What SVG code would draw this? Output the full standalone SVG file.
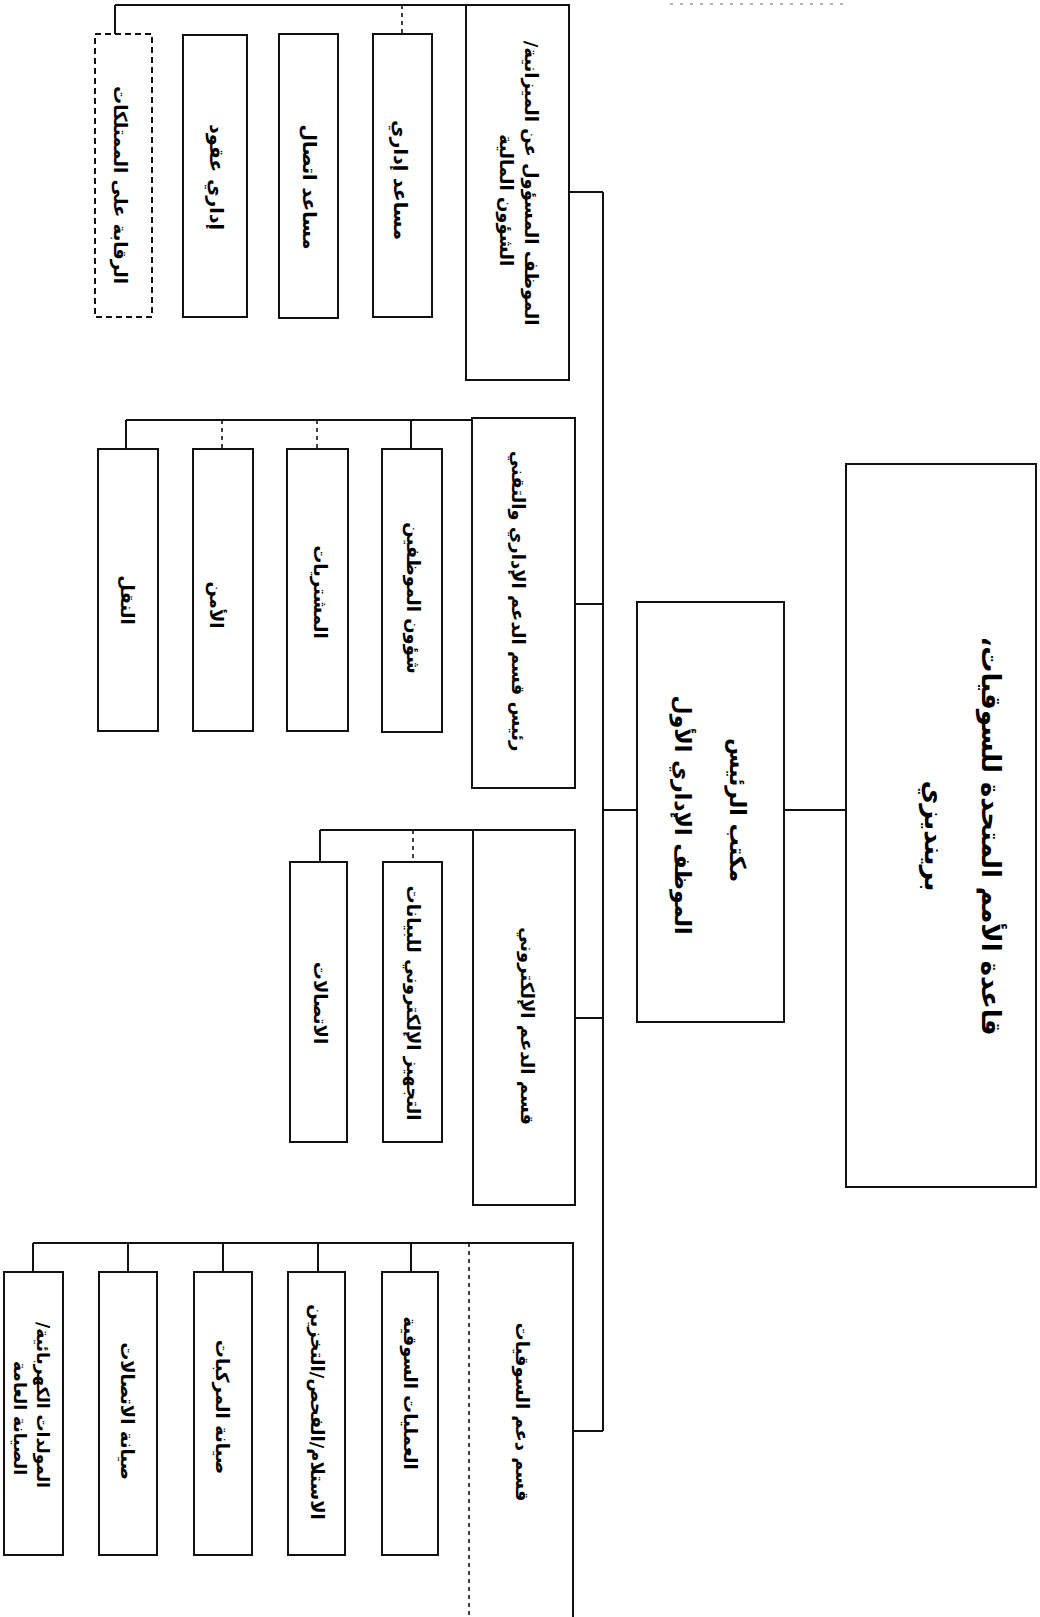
<svg xmlns="http://www.w3.org/2000/svg" width="1040" height="1617" viewBox="0 0 1040 1617">
<style>
.bx{fill:#fff;stroke:#111;stroke-width:2}
.dbx{fill:#fff;stroke:#111;stroke-width:2;stroke-dasharray:6 4}
.ln{fill:none;stroke:#111;stroke-width:2}
.dl{fill:none;stroke:#111;stroke-width:1.6;stroke-dasharray:4 4}
.fl{fill:none;stroke:#999;stroke-width:1.5;stroke-dasharray:3 7}
.t{font-family:"DejaVu Sans","Noto Sans",sans-serif;font-weight:bold;fill:#000;text-anchor:middle;dominant-baseline:central;direction:rtl;unicode-bidi:embed}
.s26{font-size:26px}.s22{font-size:22px}.s19{font-size:19px}.s18{font-size:18px}.s17{font-size:17px}
</style>
<rect width="1040" height="1617" fill="#fff"/>
<g id="connectors">
<path class="ln" d="M603 192V1431"/>
<path class="ln" d="M569 192H603M575 604H603M603 810H637M784 810H846M575 1018H603M573 1431H603"/>
<path class="ln" d="M115 5H466M115 5V34"/>
<path class="dl" d="M402 5V34"/>
<path class="fl" d="M670 4H845"/>
<path class="ln" d="M126 420H472M126 420V449M411 420V449"/>
<path class="dl" d="M222 420V449M317 420V449"/>
<path class="ln" d="M320 830H473M320 830V862"/>
<path class="dl" d="M413 830V862"/>
<path class="ln" d="M33 1243H469M33 1243V1272M128 1243V1272M223 1243V1272M318 1243V1272M411 1243V1272"/>
</g>
<g id="node-top">
<rect class="bx" x="846" y="464" width="190" height="723"/>
<text class="t s26" transform="translate(991,836) rotate(90)">قاعدة الأمم المتحدة للسوقيات،</text>
<text class="t s26" transform="translate(934,836) rotate(90)">برينديزي</text>
</g>
<g id="node-chief">
<rect class="bx" x="637" y="602" width="147" height="420"/>
<text class="t s22" transform="translate(737,810) rotate(90)">مكتب الرئيس</text>
<text class="t s22" transform="translate(682,815) rotate(90)">الموظف الإداري الأول</text>
</g>
<g id="dept-finance">
<rect class="bx" x="466" y="5" width="103" height="375"/>
<text class="t s18" transform="translate(531,183) rotate(90)">الموظف المسؤول عن الميزانية/</text>
<text class="t s18" transform="translate(506,200) rotate(90)">الشؤون المالية</text>
</g>
<g id="unit-admin-assistant">
<rect class="bx" x="373" y="34" width="59" height="283"/>
<text class="t s19" transform="translate(401,180) rotate(90)">مساعد إداري</text>
</g>
<g id="unit-liaison-assistant">
<rect class="bx" x="279" y="34" width="59" height="284"/>
<text class="t s19" transform="translate(310,187) rotate(90)">مساعد اتصال</text>
</g>
<g id="unit-contracts">
<rect class="bx" x="183" y="35" width="64" height="282"/>
<text class="t s19" transform="translate(217,177) rotate(90)">إداري عقود</text>
</g>
<g id="unit-property-control">
<rect class="dbx" x="95" y="34" width="57" height="283"/>
<text class="t s18" transform="translate(120,185) rotate(90)">الرقابة على الممتلكات</text>
</g>
<g id="dept-admin">
<rect class="bx" x="472" y="418" width="103" height="370"/>
<text class="t s18" transform="translate(518,601) rotate(90)">رئيس قسم الدعم الإداري والتقني</text>
</g>
<g id="unit-personnel">
<rect class="bx" x="382" y="449" width="60" height="283"/>
<text class="t s18" transform="translate(413,598) rotate(90)">شؤون الموظفين</text>
</g>
<g id="unit-procurement">
<rect class="bx" x="287" y="449" width="61" height="282"/>
<text class="t s18" transform="translate(320,592) rotate(90)">المشتريات</text>
</g>
<g id="unit-security">
<rect class="bx" x="193" y="449" width="60" height="282"/>
<text class="t s18" transform="translate(216,605) rotate(90)">الأمن</text>
</g>
<g id="unit-transport">
<rect class="bx" x="98" y="449" width="60" height="282"/>
<text class="t s18" transform="translate(127,600) rotate(90)">النقل</text>
</g>
<g id="dept-electronic">
<rect class="bx" x="473" y="830" width="102" height="375"/>
<path class="dl" d="M473 830V1205" stroke="#fff"/>
<text class="t s18" transform="translate(527,1026) rotate(90)">قسم الدعم الإلكتروني</text>
</g>
<g id="unit-edp">
<rect class="bx" x="383" y="862" width="59" height="280"/>
<text class="t s18" transform="translate(413,1003) rotate(90)">التجهيز الإلكتروني للبيانات</text>
</g>
<g id="unit-communications">
<rect class="bx" x="290" y="862" width="57" height="280"/>
<text class="t s18" transform="translate(320,1003) rotate(90)">الاتصالات</text>
</g>
<g id="dept-logistics">
<path class="ln" d="M469 1243H573V1620"/>
<path class="dl" d="M469 1243V1620"/>
<text class="t s18" transform="translate(522,1412) rotate(90)">قسم دعم السوقيات</text>
</g>
<g id="unit-logistics-ops">
<rect class="bx" x="382" y="1272" width="56" height="283"/>
<text class="t s18" transform="translate(410,1393) rotate(90)">العمليات السوقية</text>
</g>
<g id="unit-receiving">
<rect class="bx" x="288" y="1272" width="57" height="283"/>
<text class="t s18" transform="translate(317,1412) rotate(90)">الاستلام/الفحص/التخزين</text>
</g>
<g id="unit-vehicle-maint">
<rect class="bx" x="194" y="1272" width="58" height="283"/>
<text class="t s18" transform="translate(222,1407) rotate(90)">صيانة المركبات</text>
</g>
<g id="unit-comms-maint">
<rect class="bx" x="99" y="1272" width="58" height="283"/>
<text class="t s18" transform="translate(127,1411) rotate(90)">صيانة الاتصالات</text>
</g>
<g id="unit-generators">
<rect class="bx" x="4" y="1272" width="59" height="283"/>
<text class="t s17" transform="translate(43,1405) rotate(90)">المولدات الكهربائية/</text>
<text class="t s17" transform="translate(20,1418) rotate(90)">الصيانة العامة</text>
</g>
</svg>
